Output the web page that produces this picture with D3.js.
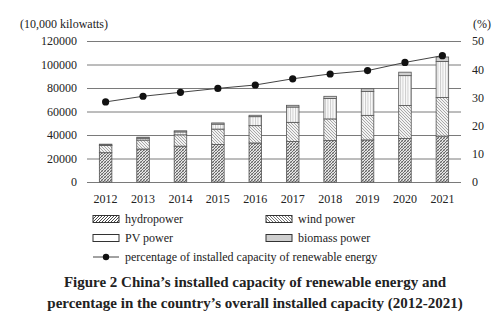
<!DOCTYPE html>
<html>
<head>
<meta charset="utf-8">
<script src="https://cdn.jsdelivr.net/npm/d3@7"></script>
<style>
  body { margin: 0; background: #fff; }
  svg { display: block; font-family: "Liberation Serif", "Times New Roman", serif; }
</style>
</head>
<body>
<div id="chart"></div>
<script>
const years = ["2012", "2013", "2014", "2015", "2016", "2017", "2018", "2019", "2020", "2021"];
const hydro = [24947, 28044, 30486, 31954, 33207, 34411, 35259, 35804, 37016, 39092];
const wind = [6142, 7652, 9657, 13075, 14747, 16367, 18427, 20915, 28153, 32848];
const pv = [341, 1589, 2486, 4218, 7631, 13025, 17463, 20418, 25343, 30656];
const biomass = [770, 850, 950, 1030, 1214, 1476, 1781, 2254, 2952, 3798];
const percent = [28.4, 30.4, 31.8, 33.2, 34.4, 36.6, 38.3, 39.5, 42.4, 44.8];
const leftTicks = [0, 20000, 40000, 60000, 80000, 100000, 120000];
const rightTicks = [0, 10, 20, 30, 40, 50];

const width = 499;
const height = 326;
const margin = { top: 41, right: 38, bottom: 144, left: 87 };

const svg = d3.select("#chart").append("svg")
  .attr("width", width)
  .attr("height", height);

// hatch patterns
const defs = svg.append("defs");
function hatch(id, bg, lines) {
  const p = defs.append("pattern")
    .attr("id", id)
    .attr("patternUnits", "userSpaceOnUse")
    .attr("width", 3).attr("height", 3);
  p.append("rect").attr("width", 3).attr("height", 3).attr("fill", bg);
  lines.forEach(l => p.append("path").attr("d", l.d)
    .attr("stroke", l.c).attr("stroke-width", l.w));
}
hatch("hydro", "#e6e6e6", [
  { d: "M0,3 L3,0 M-1,1 L1,-1 M2,4 L4,2", c: "#444", w: 0.8 },
  { d: "M0,0 L3,3", c: "#777", w: 0.5 }
]);
hatch("wind", "#f2f2f2", [
  { d: "M0,0 L3,3 M-1,2 L1,4 M2,-1 L4,1", c: "#888", w: 0.7 }
]);
hatch("hydroLeg", "#fff", [
  { d: "M0,3 L3,0 M-1,1 L1,-1 M2,4 L4,2", c: "#333", w: 0.9 }
]);
hatch("windLeg", "#fff", [
  { d: "M0,0 L3,3 M-1,2 L1,4 M2,-1 L4,1", c: "#555", w: 0.8 }
]);
const pvPat = defs.append("pattern")
  .attr("id", "pv").attr("patternUnits", "userSpaceOnUse")
  .attr("width", 2.5).attr("height", 4);
pvPat.append("rect").attr("width", 2.5).attr("height", 4).attr("fill", "#fafafa");
pvPat.append("path").attr("d", "M0.5,0 L0.5,4").attr("stroke", "#aaa").attr("stroke-width", 0.6);

const x = d3.scaleBand()
  .domain(years)
  .range([margin.left, width - margin.right])
  .paddingInner(0.665)
  .paddingOuter(0.33);

const y = d3.scaleLinear()
  .domain([0, 120000])
  .range([height - margin.bottom, margin.top]);

const y2 = d3.scaleLinear()
  .domain([0, 50])
  .range([height - margin.bottom, margin.top]);

// grid
svg.append("g")
  .selectAll("line")
  .data(leftTicks)
  .join("line")
  .attr("x1", margin.left)
  .attr("x2", width - margin.right)
  .attr("y1", d => y(d) + 0.5)
  .attr("y2", d => y(d) + 0.5)
  .attr("stroke", "#7a7a7a")
  .attr("stroke-width", 1);

function styleAxis(g) {
  g.attr("font-family", null).attr("font-size", null);
  g.select(".domain").remove();
  g.selectAll("text").attr("font-size", 12).attr("fill", "#222");
}

// left axis
svg.append("g")
  .attr("transform", `translate(${margin.left},0)`)
  .call(d3.axisLeft(y).tickValues(leftTicks).tickFormat(d3.format("d")).tickSize(0).tickPadding(10))
  .call(styleAxis);

// right axis
svg.append("g")
  .attr("transform", `translate(${width - margin.right},0)`)
  .call(d3.axisRight(y2).tickValues(rightTicks).tickSize(0).tickPadding(11))
  .call(styleAxis);

// bottom axis labels
svg.append("g")
  .attr("transform", `translate(0,${height - margin.bottom})`)
  .call(d3.axisBottom(x).tickSize(0).tickPadding(12))
  .call(styleAxis);

// stacked bars
const rows = years.map((yr, i) => ({ year: yr, hydro: hydro[i], wind: wind[i], pv: pv[i], biomass: biomass[i] }));
const keys = ["hydro", "wind", "pv", "biomass"];
const fills = { hydro: "url(#hydro)", wind: "url(#wind)", pv: "url(#pv)", biomass: "#cfcfcf" };
const stack = d3.stack().keys(keys)(rows);

svg.append("g")
  .selectAll("g")
  .data(stack)
  .join("g")
  .attr("fill", d => fills[d.key])
  .selectAll("rect")
  .data(d => d)
  .join("rect")
  .attr("x", d => x(d.data.year))
  .attr("y", d => y(d[1]))
  .attr("width", x.bandwidth())
  .attr("height", d => y(d[0]) - y(d[1]))
  .attr("stroke", "#555")
  .attr("stroke-width", 0.8);

// percentage line
const line = d3.line()
  .x((d, i) => x(years[i]) + x.bandwidth() / 2)
  .y(d => y2(d));

svg.append("path")
  .datum(percent)
  .attr("d", line)
  .attr("fill", "none")
  .attr("stroke", "#444")
  .attr("stroke-width", 1);

svg.append("g")
  .selectAll("circle")
  .data(percent)
  .join("circle")
  .attr("cx", (d, i) => x(years[i]) + x.bandwidth() / 2)
  .attr("cy", d => y2(d))
  .attr("r", 3.6)
  .attr("fill", "#111");

// unit labels
svg.append("text")
  .attr("x", 20).attr("y", 28)
  .attr("font-size", 12).attr("fill", "#222")
  .text("(10,000 kilowatts)");
svg.append("text")
  .attr("x", 473).attr("y", 28)
  .attr("font-size", 12).attr("fill", "#222")
  .text("(%)");

// legend
const legendItems = [
  { label: "hydropower", fill: "url(#hydroLeg)", col: 0, row: 0 },
  { label: "wind power", fill: "url(#windLeg)", col: 1, row: 0 },
  { label: "PV power", fill: "#fff", col: 0, row: 1 },
  { label: "biomass power", fill: "#cfcfcf", col: 1, row: 1 }
];
const legend = svg.append("g");
const colX = [93, 266];
const rowY = [219, 238, 257];

legendItems.forEach(it => {
  legend.append("rect")
    .attr("x", colX[it.col]).attr("y", rowY[it.row] - 3.5)
    .attr("width", 26).attr("height", 7)
    .attr("fill", it.fill)
    .attr("stroke", "#333").attr("stroke-width", 1);
  legend.append("text")
    .attr("x", colX[it.col] + 32).attr("y", rowY[it.row] + 4)
    .attr("font-size", 12).attr("fill", "#222")
    .text(it.label);
});
legend.append("line")
  .attr("x1", 93).attr("x2", 119)
  .attr("y1", rowY[2]).attr("y2", rowY[2])
  .attr("stroke", "#444").attr("stroke-width", 1);
legend.append("circle")
  .attr("cx", 106).attr("cy", rowY[2]).attr("r", 3.2).attr("fill", "#111");
legend.append("text")
  .attr("x", 125).attr("y", rowY[2] + 4)
  .attr("font-size", 12).attr("fill", "#222")
  .text("percentage of installed capacity of renewable energy");

// caption
const caption = [
  "Figure 2 China\u2019s installed capacity of renewable energy and",
  "percentage in the country\u2019s overall installed capacity (2012-2021)"
];
svg.append("g")
  .selectAll("text")
  .data(caption)
  .join("text")
  .attr("x", 255)
  .attr("y", (d, i) => 287 + i * 21)
  .attr("text-anchor", "middle")
  .attr("font-size", 15)
  .attr("font-weight", "bold")
  .attr("fill", "#222")
  .text(d => d);
</script>
</body>
</html>
